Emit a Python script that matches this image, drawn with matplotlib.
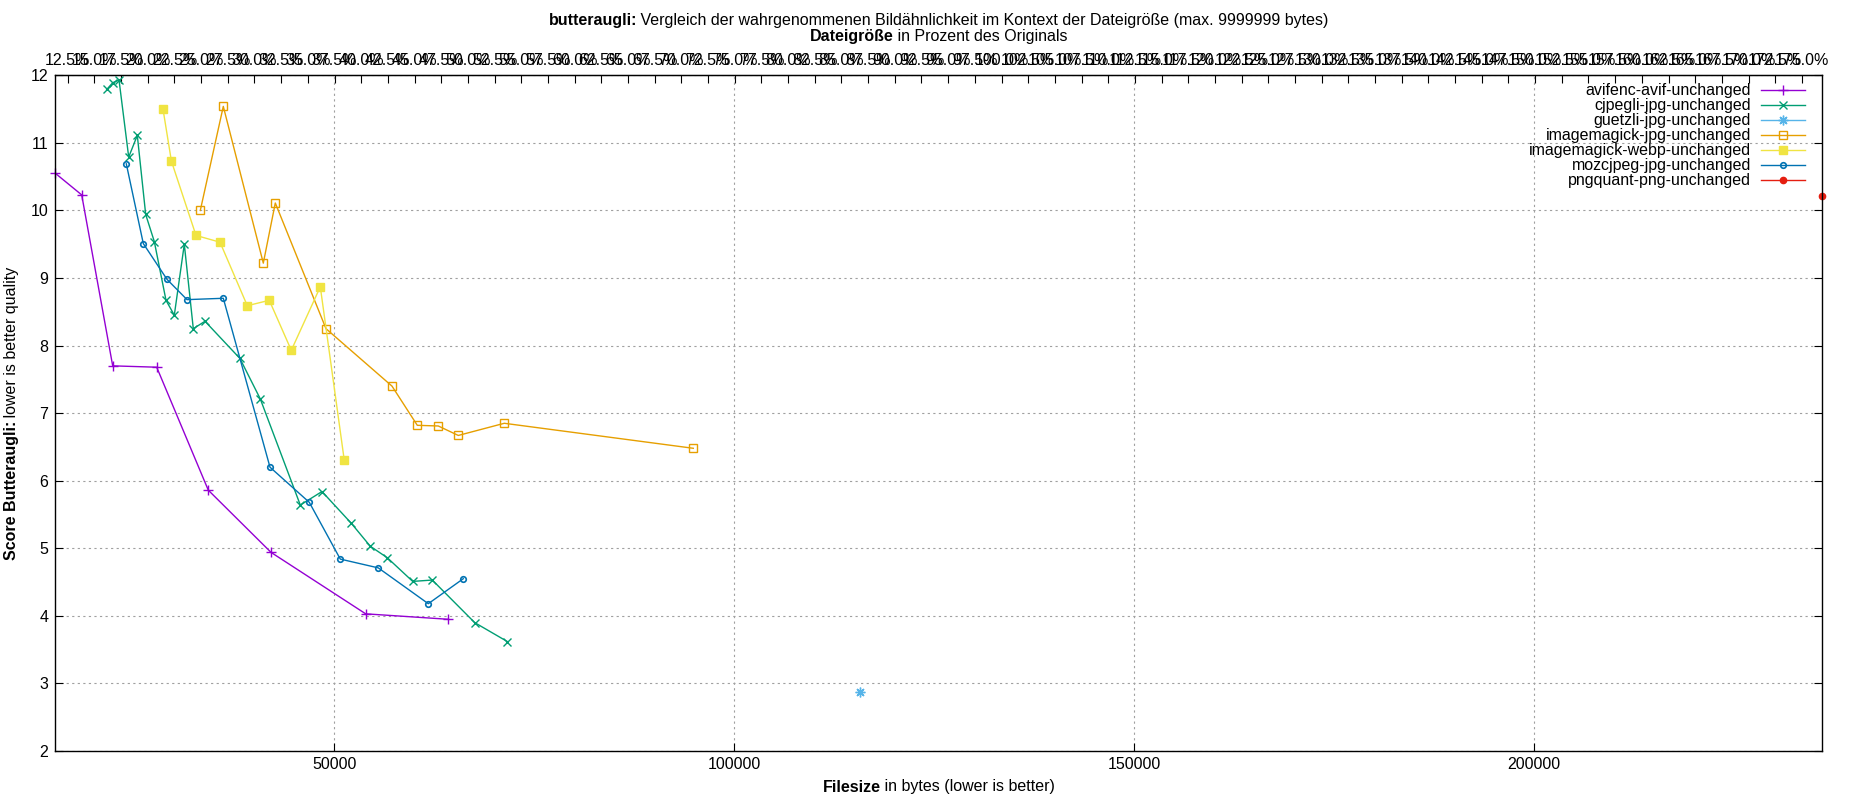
import matplotlib
matplotlib.use("Agg")
import matplotlib.pyplot as plt

plt.rcParams['font.family'] = ['Liberation Sans', 'DejaVu Sans']
plt.rcParams['font.size'] = 11.5

# original file size in bytes (for the top percentage axis)
ORIG_SIZE = 133400

avif_x = [15125, 18425, 22300, 27800, 34250, 42088, 53925, 64175]
avif_y = [10.55, 10.23, 7.70, 7.68, 5.86, 4.94, 4.03, 3.95]

cjpegli_x = [21550, 22300, 23090, 24300, 25375, 26425, 27500, 28963, 30000, 31250, 32375, 33838,
             38200, 40750, 45750, 48463, 52125, 54500, 56625, 59800, 62250, 67550, 71625]
cjpegli_y = [11.79, 11.89, 11.93, 10.79, 11.11, 9.94, 9.54, 8.67, 8.45, 9.50, 8.25, 8.36,
             7.81, 7.21, 5.64, 5.84, 5.37, 5.03, 4.86, 4.51, 4.53, 3.90, 3.62]

guetzli_x = [115750]
guetzli_y = [2.88]

im_jpg_x = [33250, 36125, 41125, 42625, 48963, 57213, 60375, 63000, 65500, 71250, 94875]
im_jpg_y = [10.00, 11.54, 9.22, 10.11, 8.25, 7.40, 6.82, 6.81, 6.67, 6.85, 6.48]

im_webp_x = [28588, 29638, 32713, 35713, 39125, 41875, 44625, 48250, 51250]
im_webp_y = [11.50, 10.73, 9.63, 9.53, 8.59, 8.67, 7.93, 8.87, 6.30]

moz_x = [24000, 26125, 29088, 31588, 36125, 41963, 46875, 50750, 55500, 61750, 66125]
moz_y = [10.69, 9.51, 8.98, 8.68, 8.70, 6.20, 5.68, 4.84, 4.71, 4.18, 4.55]

png_x = [236000]
png_y = [10.21]

series = [
    ("avifenc-avif-unchanged", avif_x, avif_y, '#9400d3', dict(marker='+', ms=7, mew=1.0)),
    ("cjpegli-jpg-unchanged", cjpegli_x, cjpegli_y, '#009e73', dict(marker='x', ms=5.5, mew=1.0)),
    ("guetzli-jpg-unchanged", guetzli_x, guetzli_y, '#56b4e9', dict(marker=(8, 2, 0), ms=7, mew=1.0)),
    ("imagemagick-jpg-unchanged", im_jpg_x, im_jpg_y, '#e69f00', dict(marker='s', ms=5.5, mew=1.0, mfc='none')),
    ("imagemagick-webp-unchanged", im_webp_x, im_webp_y, '#f0e442', dict(marker='s', ms=5.5, mew=1.0)),
    ("mozcjpeg-jpg-unchanged", moz_x, moz_y, '#0072b2', dict(marker='o', ms=4, mew=1.2, mfc='none')),
    ("pngquant-png-unchanged", png_x, png_y, '#e51e10', dict(marker='o', ms=4.5, mew=1.0)),
]

fig = plt.figure(figsize=(18.5, 8), dpi=100)
ax = fig.add_axes([55.3 / 1850, 1 - 751 / 800, (1822.3 - 55.3) / 1850, (751 - 75.3) / 800])

for name, xs, ys, col, mk in series:
    ax.plot(xs, ys, color=col, lw=1.0, label=name, clip_on=False, **mk)

all_x = avif_x + cjpegli_x + guetzli_x + im_jpg_x + im_webp_x + moz_x + png_x
ax.set_xlim(min(all_x), max(all_x))
ax.set_ylim(2, 12)
ax.set_xticks([50000, 100000, 150000, 200000])
ax.set_yticks(range(2, 13))

ax.grid(True, color='#a0a0a0', lw=0.8, linestyle=(0, (2, 3)))
ax.tick_params(axis='y', direction='in', right=True, length=6, width=0.8, pad=5)
ax.tick_params(axis='x', direction='in', top=False, length=6, width=0.8, pad=4)
for s in ax.spines.values():
    s.set_linewidth(1.0)

sec = ax.secondary_xaxis('top', functions=(lambda b: b / ORIG_SIZE * 100, lambda p: p * ORIG_SIZE / 100))
sec.set_xticks([12.5 + 2.5 * i for i in range(66)])
sec.set_xticklabels(['%.1f%%' % (12.5 + 2.5 * i) for i in range(66)])
sec.tick_params(direction='in', length=6, width=0.8, pad=5)

leg = ax.legend(loc='upper right', bbox_to_anchor=(1 - 17 / 1767, 1 - 8 / 676), frameon=False,
                markerfirst=False, handlelength=2.8, handletextpad=0.6, labelspacing=0.0,
                borderpad=0, borderaxespad=0, numpoints=1)
for t in leg.get_texts():
    t.set_ha('right')

renderer = fig.canvas.get_renderer()
W, H = 1850, 800


def rich_text(x, y, bold, normal, rot=0):
    tb = fig.text(0, 0, bold, weight='bold', rotation=rot, ha='left', va='center')
    tn = fig.text(0, 0, ' ' + normal, rotation=rot, ha='left', va='center')
    eb = tb.get_window_extent(renderer)
    en = tn.get_window_extent(renderer)
    gap = -1
    if rot == 0:
        total = eb.width + en.width + gap
        start = x - total / 2
        tb.set_position((start / W, 1 - y / H))
        tn.set_position(((start + eb.width + gap) / W, 1 - y / H))
    else:
        tb.set_va('bottom')
        tn.set_va('bottom')
        tb.set_ha('center')
        tn.set_ha('center')
        total = eb.height + en.height + gap
        start = (H - y) - total / 2
        tb.set_position((x / W, start / H))
        tn.set_position((x / W, (start + eb.height + gap) / H))


mid = (55.3 + 1822.3) / 2
rich_text(mid, 21, "butteraugli:",
          "Vergleich der wahrgenommenen Bildähnlichkeit im Kontext der Dateigröße (max. 9999999 bytes)")
rich_text(mid, 37, "Dateigröße", "in Prozent des Originals")
rich_text(mid, 787, "Filesize", "in bytes (lower is better)")
rich_text(12, (75.3 + 751) / 2, "Score Butteraugli:", "lower is better quality", rot=90)

fig.savefig("out.png", dpi=100)
